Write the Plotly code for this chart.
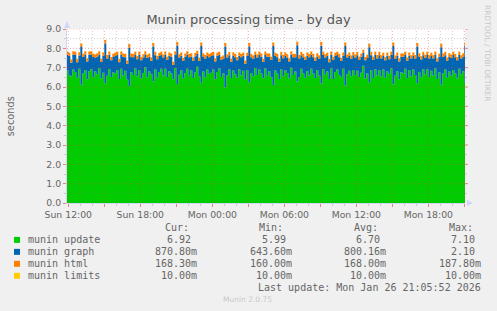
import pandas as pd
import plotly.graph_objects as go

# ---------------- data ----------------
start_time = "2026-01-25 11:50"
step = "10min"

munin_update = [
    6.85, 6.62, 6.55, 6.90, 6.78, 6.48, 6.95, 6.12, 6.70, 6.88, 6.40, 6.82,
    6.92, 6.50, 6.80, 6.66, 6.98, 6.45, 6.74, 6.20, 6.58, 6.93, 6.52, 6.75,
    6.70, 6.88, 6.42, 6.95, 6.60, 6.84, 6.38, 6.05, 6.76, 6.62, 6.96, 6.55,
    6.88, 6.45, 6.72, 7.02, 6.50, 6.80, 6.66, 6.30, 6.90, 6.48, 6.78, 6.94,
    6.60, 6.95, 6.52, 6.82, 6.70, 6.40, 6.98, 6.15, 6.64, 6.86, 6.44, 6.72,
    6.94, 6.58, 6.86, 6.46, 6.75, 7.05, 6.55, 6.22, 6.80, 6.50, 6.90, 6.68,
    6.74, 6.90, 6.40, 6.78, 6.96, 6.52, 6.70, 5.99, 6.60, 6.92, 6.46, 6.85,
    6.66, 6.48, 6.92, 6.60, 6.84, 6.38, 6.88, 6.25, 6.72, 6.56, 6.98, 6.62,
    6.90, 6.70, 6.45, 6.96, 6.58, 6.82, 6.50, 6.10, 6.85, 6.68, 6.42, 6.90,
    6.55, 6.86, 6.72, 6.44, 7.00, 6.62, 6.80, 6.28, 6.52, 6.94, 6.70, 6.48,
    6.82, 6.60, 6.95, 6.70, 6.46, 6.88, 6.58, 6.18, 6.92, 6.64, 6.80, 6.42,
    6.96, 6.42, 6.78, 6.90, 6.62, 6.50, 6.94, 6.08, 6.66, 6.84, 6.56, 6.88,
    6.62, 6.84, 6.52, 6.74, 7.10, 6.44, 6.70, 6.24, 6.86, 6.46, 6.92, 6.60,
    6.86, 6.56, 6.90, 6.48, 6.80, 6.68, 6.96, 6.14, 6.58, 6.82, 6.40, 6.76,
    6.70, 6.94, 6.46, 6.88, 6.54, 6.90, 6.62, 6.20, 6.78, 6.50, 6.92, 6.66,
    6.92, 6.52, 6.84, 6.60, 6.96, 6.42, 6.76, 6.12, 6.70, 6.90, 6.48, 6.80,
    6.58, 6.88, 6.70, 6.44, 6.94, 6.66, 6.82, 6.26, 6.92,
]

munin_graph = [
    0.82, 0.98, 0.70, 0.78, 0.88, 0.80, 0.68, 1.95, 0.85, 0.80, 0.92, 0.85,
    0.76, 1.05, 0.72, 0.92, 0.70, 0.84, 0.88, 2.05, 0.90, 0.74, 0.86, 0.80,
    0.90, 0.78, 0.86, 0.72, 0.96, 0.70, 0.82, 1.98, 0.80, 0.92, 0.70, 0.88,
    0.78, 0.94, 0.80, 0.66, 1.00, 0.76, 0.70, 1.80, 0.74, 0.96, 0.82, 0.72,
    0.92, 0.72, 0.88, 0.80, 0.86, 0.74, 0.70, 2.00, 0.88, 0.76, 0.90, 0.84,
    0.74, 0.96, 0.72, 0.90, 0.84, 0.66, 0.80, 1.90, 0.78, 0.98, 0.72, 0.86,
    0.86, 0.74, 0.92, 0.82, 0.70, 0.88, 0.76, 2.10, 0.92, 0.72, 0.84, 0.78,
    0.88, 0.90, 0.70, 0.94, 0.78, 0.82, 0.72, 1.85, 0.82, 0.90, 0.68, 0.90,
    0.76, 0.86, 0.84, 0.70, 0.98, 0.74, 0.90, 2.02, 0.76, 0.86, 0.88, 0.74,
    0.94, 0.76, 0.80, 0.88, 0.68, 0.92, 0.74, 1.88, 0.96, 0.70, 0.84, 0.92,
    0.80, 0.94, 0.72, 0.84, 0.90, 0.70, 0.88, 1.96, 0.74, 0.88, 0.80, 0.86,
    0.70, 0.98, 0.82, 0.76, 0.92, 0.84, 0.68, 2.04, 0.86, 0.78, 0.90, 0.76,
    0.90, 0.80, 0.88, 0.82, 0.66, 0.94, 0.80, 1.82, 0.78, 0.94, 0.74, 0.88,
    0.78, 0.92, 0.70, 0.90, 0.82, 0.76, 0.70, 1.98, 0.88, 0.80, 0.92, 0.80,
    0.86, 0.72, 0.90, 0.74, 0.94, 0.72, 0.86, 1.90, 0.80, 0.92, 0.72, 0.84,
    0.74, 0.96, 0.76, 0.88, 0.70, 0.90, 0.80, 1.94, 0.86, 0.74, 0.88, 0.78,
    0.92, 0.78, 0.84, 0.94, 0.72, 0.82, 0.76, 1.86, 0.87,
]

munin_html = [
    0.168, 0.166, 0.170, 0.168, 0.165, 0.169, 0.167, 0.182, 0.170, 0.168, 0.166, 0.168,
    0.167, 0.169, 0.166, 0.168, 0.170, 0.165, 0.168, 0.178, 0.169, 0.167, 0.168, 0.166,
    0.169, 0.167, 0.168, 0.165, 0.168, 0.170, 0.166, 0.188, 0.168, 0.166, 0.169, 0.167,
    0.168, 0.165, 0.170, 0.167, 0.166, 0.169, 0.168, 0.180, 0.167, 0.169, 0.160, 0.168,
    0.166, 0.168, 0.167, 0.170, 0.168, 0.166, 0.169, 0.184, 0.168, 0.167, 0.166, 0.169,
    0.170, 0.167, 0.168, 0.166, 0.169, 0.168, 0.165, 0.179, 0.168, 0.170, 0.167, 0.168,
    0.167, 0.169, 0.166, 0.168, 0.167, 0.170, 0.168, 0.186, 0.166, 0.168, 0.169, 0.167,
    0.168, 0.166, 0.169, 0.167, 0.170, 0.168, 0.166, 0.181, 0.169, 0.167, 0.168, 0.166,
    0.169, 0.168, 0.166, 0.170, 0.167, 0.168, 0.169, 0.183, 0.167, 0.166, 0.170, 0.168,
    0.166, 0.170, 0.168, 0.167, 0.169, 0.166, 0.168, 0.180, 0.170, 0.168, 0.167, 0.169,
    0.168, 0.167, 0.169, 0.168, 0.166, 0.170, 0.167, 0.185, 0.168, 0.169, 0.166, 0.167,
    0.170, 0.168, 0.167, 0.169, 0.168, 0.166, 0.170, 0.182, 0.167, 0.168, 0.169, 0.166,
    0.167, 0.169, 0.168, 0.166, 0.170, 0.167, 0.168, 0.178, 0.169, 0.166, 0.168, 0.170,
    0.168, 0.166, 0.170, 0.168, 0.167, 0.169, 0.166, 0.184, 0.168, 0.170, 0.167, 0.168,
    0.169, 0.167, 0.166, 0.170, 0.168, 0.167, 0.169, 0.181, 0.166, 0.168, 0.170, 0.167,
    0.166, 0.168, 0.169, 0.167, 0.170, 0.168, 0.166, 0.183, 0.168, 0.167, 0.169, 0.168,
    0.170, 0.167, 0.168, 0.166, 0.169, 0.168, 0.167, 0.180, 0.1683,
]

munin_limits = [
    0.01, 0.01, 0.01, 0.01, 0.01, 0.01, 0.01, 0.01, 0.01, 0.01, 0.01, 0.01,
    0.01, 0.01, 0.01, 0.01, 0.01, 0.01, 0.01, 0.01, 0.01, 0.01, 0.01, 0.01,
    0.01, 0.01, 0.01, 0.01, 0.01, 0.01, 0.01, 0.01, 0.01, 0.01, 0.01, 0.01,
    0.01, 0.01, 0.01, 0.01, 0.01, 0.01, 0.01, 0.01, 0.01, 0.01, 0.01, 0.01,
    0.01, 0.01, 0.01, 0.01, 0.01, 0.01, 0.01, 0.01, 0.01, 0.01, 0.01, 0.01,
    0.01, 0.01, 0.01, 0.01, 0.01, 0.01, 0.01, 0.01, 0.01, 0.01, 0.01, 0.01,
    0.01, 0.01, 0.01, 0.01, 0.01, 0.01, 0.01, 0.01, 0.01, 0.01, 0.01, 0.01,
    0.01, 0.01, 0.01, 0.01, 0.01, 0.01, 0.01, 0.01, 0.01, 0.01, 0.01, 0.01,
    0.01, 0.01, 0.01, 0.01, 0.01, 0.01, 0.01, 0.01, 0.01, 0.01, 0.01, 0.01,
    0.01, 0.01, 0.01, 0.01, 0.01, 0.01, 0.01, 0.01, 0.01, 0.01, 0.01, 0.01,
    0.01, 0.01, 0.01, 0.01, 0.01, 0.01, 0.01, 0.01, 0.01, 0.01, 0.01, 0.01,
    0.01, 0.01, 0.01, 0.01, 0.01, 0.01, 0.01, 0.01, 0.01, 0.01, 0.01, 0.01,
    0.01, 0.01, 0.01, 0.01, 0.01, 0.01, 0.01, 0.01, 0.01, 0.01, 0.01, 0.01,
    0.01, 0.01, 0.01, 0.01, 0.01, 0.01, 0.01, 0.01, 0.01, 0.01, 0.01, 0.01,
    0.01, 0.01, 0.01, 0.01, 0.01, 0.01, 0.01, 0.01, 0.01, 0.01, 0.01, 0.01,
    0.01, 0.01, 0.01, 0.01, 0.01, 0.01, 0.01, 0.01, 0.01, 0.01, 0.01, 0.01,
    0.01, 0.01, 0.01, 0.01, 0.01, 0.01, 0.01, 0.01, 0.01,
]

series_names = ["munin update", "munin graph", "munin html", "munin limits"]
series_colors = ["#00CC00", "#0066B3", "#FF8000", "#FFCC00"]
cur_vals = ["6.92", "870.80m", "168.30m", "10.00m"]
min_vals = ["5.99", "643.60m", "160.00m", "10.00m"]
avg_vals = ["6.70", "800.16m", "168.00m", "10.00m"]
max_vals = ["7.10", "2.10", "187.80m", "10.00m"]

x_range = ["2026-01-25 11:53:30", "2026-01-26 21:03:30"]
x_tickvals = ["2026-01-25 12:00", "2026-01-25 15:00", "2026-01-25 18:00", "2026-01-25 21:00",
              "2026-01-26 00:00", "2026-01-26 03:00", "2026-01-26 06:00", "2026-01-26 09:00",
              "2026-01-26 12:00", "2026-01-26 15:00", "2026-01-26 18:00", "2026-01-26 21:00"]
x_ticktext = ["Sun 12:00", "", "Sun 18:00", "", "Mon 00:00", "", "Mon 06:00", "",
              "Mon 12:00", "", "Mon 18:00", ""]
x_minor_hours = pd.date_range("2026-01-25 12:00", "2026-01-26 21:00", freq="1h")
y_tickvals = [0, 1, 2, 3, 4, 5, 6, 7, 8, 9]
y_ticktext = ["0.0", "1.0", "2.0", "3.0", "4.0", "5.0", "6.0", "7.0", "8.0", "9.0"]
y_minor_vals = [0.5, 1.5, 2.5, 3.5, 4.5, 5.5, 6.5, 7.5, 8.5]

# ---------------- layout geometry ----------------
W, H = 497, 311
L, R, T, B = 67, 32, 28.5, 108
PW, PH = W - L - R, H - T - B


def px2x(px):
    return (px - L) / PW


def py2y(py):
    return (H - B - py) / PH


FONT = "DejaVu Sans"
MONO = "DejaVu Sans Mono"
TXT = "#666666"
MAJ = "rgba(230,60,60,0.45)"
MIN = "rgba(120,120,120,0.35)"
AXIS = "#CFD6F8"

times = pd.date_range(start_time, periods=len(munin_update), freq=step)

fig = go.Figure()
for name, vals, color in zip(series_names,
                             [munin_update, munin_graph, munin_html, munin_limits],
                             series_colors):
    fig.add_trace(go.Scatter(x=times, y=vals, mode="lines", stackgroup="one",
                             line=dict(width=0, shape="hv"), fillcolor=color,
                             name=name, showlegend=False, hoverinfo="skip"))

shapes = []
major_x = set(pd.to_datetime(x_tickvals))
for t in x_minor_hours:
    col = MAJ if t in major_x else MIN
    shapes.append(dict(type="line", xref="x", yref="paper", x0=t, x1=t, y0=0, y1=1,
                       line=dict(color=col, width=1, dash="1px,2px"), layer="above"))
for v in y_minor_vals:
    shapes.append(dict(type="line", xref="paper", yref="y", x0=0, x1=1, y0=v, y1=v,
                       line=dict(color=MIN, width=1, dash="1px,2px"), layer="above"))
    shapes.append(dict(type="line", xref="paper", yref="y", xsizemode="pixel", xanchor=1,
                       x0=0, x1=2, y0=v, y1=v, line=dict(color="#C8C8C8", width=1), layer="above"))
for v in y_tickvals[1:]:
    shapes.append(dict(type="line", xref="paper", yref="y", x0=0, x1=1, y0=v, y1=v,
                       line=dict(color=MAJ, width=1, dash="1px,2px"), layer="above"))
    shapes.append(dict(type="line", xref="paper", yref="y", xsizemode="pixel", xanchor=1,
                       x0=0, x1=3, y0=v, y1=v, line=dict(color="#F08080", width=1), layer="above"))

# arrows
shapes.append(dict(type="path", xref="paper", yref="paper", xsizemode="pixel", ysizemode="pixel",
                   xanchor=0, yanchor=1, path="M -3,1 L 3,1 L 0,8 Z",
                   fillcolor=AXIS, line=dict(width=0), layer="above"))
shapes.append(dict(type="path", xref="paper", yref="paper", xsizemode="pixel", ysizemode="pixel",
                   xanchor=1, yanchor=0, path="M 2,-3 L 2,3 L 8,0 Z",
                   fillcolor=AXIS, line=dict(width=0), layer="above"))

# legend squares
row_y = [240, 252, 264, 276]
for yy, col in zip(row_y, series_colors):
    shapes.append(dict(type="rect", xref="paper", yref="paper",
                       x0=px2x(14), x1=px2x(20), y0=py2y(yy + 3), y1=py2y(yy - 3),
                       fillcolor=col, line=dict(width=0)))

annotations = []


def ann(text, px, py, xanchor="left", size=10, family=MONO, color=TXT, angle=0):
    annotations.append(dict(text=text, x=px2x(px), y=py2y(py), xref="paper", yref="paper",
                            xanchor=xanchor, yanchor="middle", showarrow=False,
                            textangle=angle, font=dict(family=family, size=size, color=color)))


NB = "\u00a0"
ann("Cur:", 163.3, 228)
ann("Min:", 257.3, 228)
ann("Avg:", 352.3, 228)
ann("Max:", 446.7, 228)
for i, yy in enumerate(row_y):
    ann(series_names[i], 26, yy)
    for vals, edge in zip([cur_vals, min_vals, avg_vals, max_vals], [199, 294, 388.3, 482.7]):
        v = vals[i]
        ann(v if v.endswith("m") else v + NB, edge, yy, xanchor="right")
ann("Last update: Mon Jan 26 21:05:52 2026", 482.7, 288, xanchor="right")
ann("Munin 2.0.75", 247, 300, xanchor="center", size=7.5, family=FONT, color="#C8C8C8")
ann("seconds", 10, 116, xanchor="center", size=9.8, family=FONT, color=TXT, angle=-90)
ann("RRDTOOL / TOBI OETIKER", 487, 53.5, xanchor="center", size=7.5, family=FONT,
    color="#C8C8C8", angle=90)

fig.update_layout(
    width=W, height=H,
    margin=dict(l=L, r=R, t=T, b=B, pad=0),
    paper_bgcolor="#F0F0F0", plot_bgcolor="#FFFFFF",
    showlegend=False,
    font=dict(family=FONT, color=TXT),
    title=dict(text="Munin processing time - by day", x=0.5, xref="container", xanchor="center",
               y=1 - 19 / H, yref="container", yanchor="middle",
               font=dict(family=FONT, size=13, color="#555555")),
    xaxis=dict(type="date", range=x_range, tickmode="array", tickvals=x_tickvals,
               ticktext=x_ticktext, ticks="outside", ticklen=3, tickwidth=1,
               tickcolor="#F08080", showgrid=False, zeroline=False, showline=True,
               linecolor=AXIS, linewidth=1, layer="above traces",
               tickfont=dict(family=FONT, size=9.3, color=TXT),
               minor=dict(dtick=3600000, tick0="2026-01-25 00:00", ticks="outside",
                          ticklen=2, tickcolor="#C8C8C8", showgrid=False),
               fixedrange=True),
    yaxis=dict(range=[0, 9], tickmode="array", tickvals=y_tickvals, ticktext=y_ticktext,
               ticks="outside", ticklen=3, tickwidth=1, tickcolor="#F08080",
               showgrid=False, zeroline=False, showline=True, linecolor=AXIS, linewidth=1,
               layer="above traces", tickfont=dict(family=FONT, size=9.3, color=TXT),
               minor=dict(dtick=0.5, ticks="outside", ticklen=2, tickcolor="#C8C8C8",
                          showgrid=False),
               fixedrange=True),
    shapes=shapes,
    annotations=annotations,
)

fig.write_html("out.html")
